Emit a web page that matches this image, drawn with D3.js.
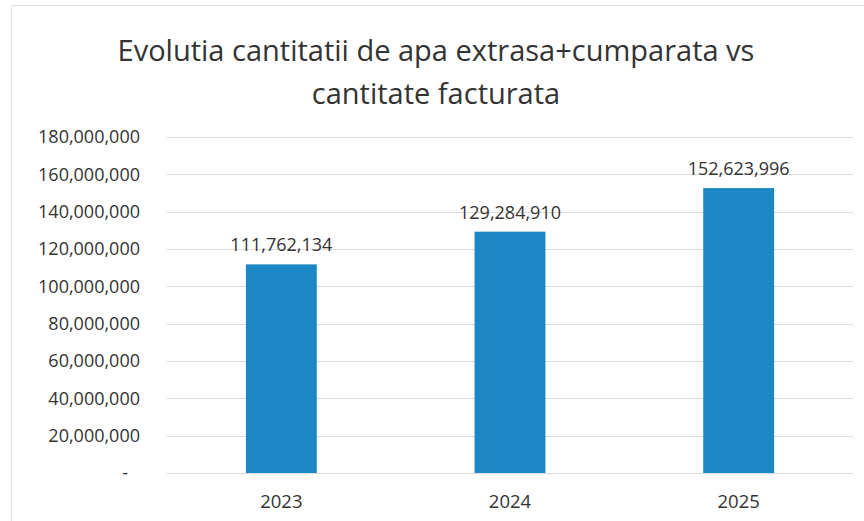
<!DOCTYPE html>
<html><head><meta charset="utf-8">
<script src="https://cdn.jsdelivr.net/npm/d3@7"></script>
<style>body{margin:0;background:#fff;}svg{display:block;}</style>
</head><body>
<script>
const categories = ["2023", "2024", "2025"];
const values = [111762134, 129284910, 152623996];
const yTicks = [0, 20000000, 40000000, 60000000, 80000000, 100000000, 120000000, 140000000, 160000000, 180000000];
const titleLines = ["Evolutia cantitatii de apa extrasa+cumparata vs", "cantitate facturata"];

const W = 864, H = 521;
const svg = d3.select("body").append("svg").attr("width", W).attr("height", H);
const font = "'Open Sans', 'Noto Sans', sans-serif";

svg.append("rect").attr("width", W).attr("height", H).attr("fill", "#fff");
// faint chart border
svg.append("path").attr("d", "M11.5,521V5.5H864").attr("fill", "none").attr("stroke", "#e4e4e4").attr("stroke-width", 1);

const mLeft = 167, mRight = 853, mTop = 137, mBottom = 473;
const x = d3.scaleBand().domain(categories).range([mLeft, mRight]).paddingInner(0.69).paddingOuter(0.345);
const y = d3.scaleLinear().domain([0, 180000000]).range([mBottom, mTop]);
const fmt = d3.format(",");

// gridlines
svg.append("g").selectAll("line").data(yTicks).join("line")
  .attr("x1", mLeft).attr("x2", mRight)
  .attr("y1", d => Math.round(y(d)) + 0.5).attr("y2", d => Math.round(y(d)) + 0.5)
  .attr("stroke", "#dcdcdc").attr("stroke-width", 1);

// y axis
const yAxis = svg.append("g").attr("transform", `translate(${mLeft - 27},0)`)
  .call(d3.axisLeft(y).tickValues(yTicks).tickSize(0).tickPadding(0)
    .tickFormat(d => d === 0 ? "-" : fmt(d)));
yAxis.select(".domain").remove();
yAxis.selectAll("text").attr("font-family", font).attr("font-size", 18).attr("fill", "#333");
yAxis.selectAll(".tick").filter(d => d === 0).select("text").attr("dx", -12);

// bars
svg.append("g").selectAll("rect").data(values).join("rect")
  .attr("x", (d, i) => x(categories[i])).attr("width", x.bandwidth())
  .attr("y", d => y(d)).attr("height", d => mBottom - y(d))
  .attr("fill", "#1b87c5");

// data labels
svg.append("g").selectAll("text").data(values).join("text")
  .attr("x", (d, i) => x(categories[i]) + x.bandwidth() / 2)
  .attr("y", d => y(d) - 13)
  .attr("text-anchor", "middle").attr("font-family", font).attr("font-size", 18)
  .attr("fill", "#333").text(d => fmt(d));

// x axis
const xAxis = svg.append("g").attr("transform", `translate(0,${mBottom})`)
  .call(d3.axisBottom(x).tickSize(0).tickPadding(22));
xAxis.select(".domain").remove();
xAxis.selectAll("text").attr("font-family", font).attr("font-size", 18.5).attr("fill", "#333");

// title
const t = svg.append("g");
t.selectAll("text").data(titleLines).join("text")
  .attr("x", 436).attr("y", (d, i) => 61 + i * 43)
  .attr("text-anchor", "middle").attr("font-family", font).attr("font-size", 29)
  .attr("fill", "#333").text(d => d);
</script>
</body></html>
